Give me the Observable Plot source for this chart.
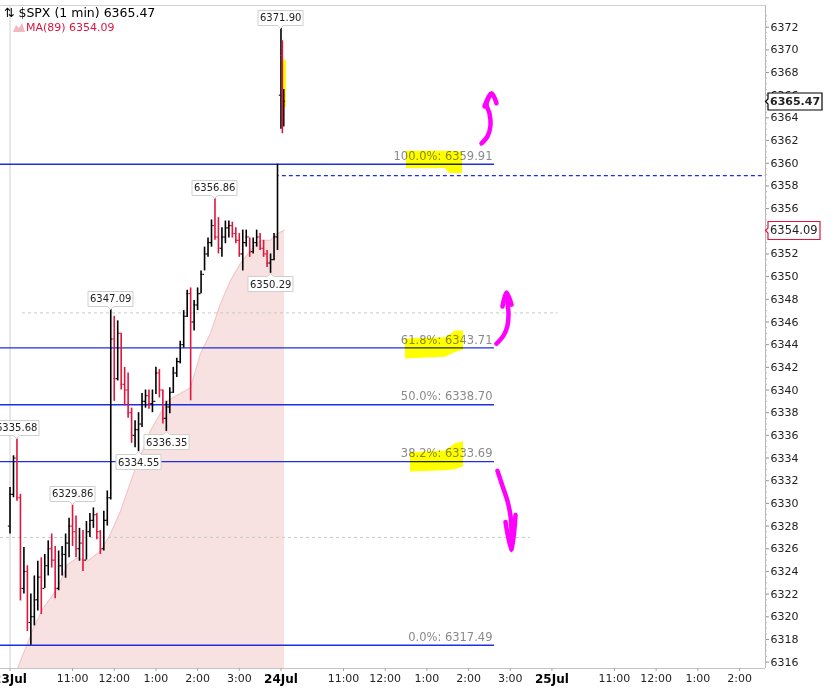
<!DOCTYPE html>
<html><head><meta charset="utf-8">
<script src="https://cdn.jsdelivr.net/npm/d3@7"></script>
<script src="https://cdn.jsdelivr.net/npm/@observablehq/plot@0.6"></script>
<style>
body{margin:0;background:#fff;}
#wrap{position:relative;width:839px;height:688px;overflow:hidden;}
#legend{position:absolute;left:0;top:0;font-family:"DejaVu Sans",sans-serif;pointer-events:none;}
#legend .l1{position:absolute;left:4px;top:5px;font-size:12.5px;color:#000;white-space:nowrap;}
#legend .l2{position:absolute;left:13px;top:21px;font-size:11px;color:#dc1440;white-space:nowrap;}
</style></head><body>
<div id="wrap"><div id="chart"></div>
<div id="legend">
 <div class="l1">⇅ $SPX (1 min) 6365.47</div>
 <div class="l2"><svg width="12" height="10" style="vertical-align:-1px;margin-right:1px"><polygon points="0,10 3,3 6,6 9,1 12,10" fill="#f2b8c0"/></svg>MA(89) 6354.09</div>
</div></div>
<script>
// ---- time axis: trading minutes since 23 Jul 9:30 (sessions 9:30-16:00 concatenated)
const sessionMinutes = 390;
const dayLabels = ["23Jul", "24Jul", "25Jul"];
const hourLabels = ["11:00", "12:00", "1:00", "2:00", "3:00"];
const hourOffsets = [90, 150, 210, 270, 330];

// ---- 23 Jul, 5-minute bars (high / low / close), open = previous close
const firstOpen23 = 6328.0;
const barHigh23 = [6331.4,6334.2,6335.68,6330.8,6326.1,6324.5,6322.0,6323.6,6324.9,6325.2,
 6325.5,6326.7,6327.3,6326.2,6325.8,6326.2,6327.3,6328.7,6329.86,6328.9,
 6327.8,6327.6,6328.4,6329.1,6329.6,6329.1,6327.6,6329.3,6331.1,6347.09,
 6346.5,6346.1,6345.0,6342.0,6341.5,6338.4,6337.3,6338.0,6339.7,6340.0,
 6340.0,6340.0,6342.0,6341.8,6340.0,6339.0,6340.2,6342.0,6342.8,6344.3,
 6347.0,6348.8,6349.0,6347.9,6349.0,6350.5,6352.6,6353.4,6355.0,6356.86,
 6355.2,6354.3,6354.9,6354.9,6354.8,6354.3,6353.8,6354.1,6354.1,6353.4,
 6353.4,6354.1,6353.8,6353.2,6352.3,6352.0,6353.8,6359.91];
const barLow23 = [6327.3,6330.5,6330.2,6321.4,6322.0,6318.7,6317.49,6319.2,6320.5,6320.2,
 6322.5,6323.6,6324.3,6321.6,6322.3,6323.6,6323.4,6325.2,6326.2,6325.2,
 6324.9,6324.0,6325.0,6327.0,6327.8,6326.8,6325.5,6325.8,6328.0,6330.3,
 6339.0,6340.8,6340.0,6338.6,6337.5,6335.3,6334.9,6334.55,6336.7,6338.4,
 6338.3,6338.0,6339.6,6339.3,6337.0,6336.35,6337.9,6339.7,6341.1,6342.3,
 6343.7,6346.4,6339.05,6345.2,6347.0,6348.5,6350.5,6351.7,6352.6,6353.2,
 6352.0,6351.7,6352.9,6353.4,6353.4,6352.9,6351.7,6350.5,6352.6,6351.7,
 6352.0,6352.6,6352.3,6351.7,6350.8,6350.29,6351.4,6352.3];
const barClose23 = [6330.8,6334.0,6330.5,6322.5,6324.0,6319.5,6320.0,6321.5,6323.5,6322.5,
 6324.5,6326.0,6325.0,6322.5,6324.5,6325.5,6326.5,6328.0,6327.5,6326.0,
 6326.5,6325.0,6327.5,6328.5,6329.0,6327.5,6326.0,6328.5,6330.5,6344.5,
 6341.0,6345.0,6340.5,6340.0,6338.0,6336.0,6336.5,6337.0,6339.0,6339.5,
 6338.8,6339.0,6341.5,6340.0,6337.5,6338.5,6339.8,6341.5,6342.5,6344.0,
 6346.5,6348.5,6346.0,6347.5,6348.5,6350.2,6352.0,6353.0,6354.5,6353.5,
 6352.5,6353.5,6354.3,6354.5,6353.8,6353.2,6352.0,6353.0,6353.5,6352.2,
 6353.0,6353.5,6352.5,6352.0,6351.2,6351.5,6353.5,6358.9];

// ---- 24 Jul, first 1-minute bars
const barTime24 = [390, 392, 394];
const barOpen24 = [6366.0, 6369.5, 6364.0];
const barHigh24 = [6371.90, 6370.8, 6366.5];
const barLow24 = [6363.0, 6362.6, 6363.2];
const barClose24 = [6369.5, 6364.0, 6365.47];

// ---- MA(89)
const maTime = [0,10.8,15.1,22.3,33.8,48.2,68.4,82.8,97.2,111.5,130.3,144.6,159.0,177.7,202.2,220.9,226.7,245.4,259.8,274.2,288.6,303.0,317.4,331.8,346.1,360.5,374.9,385,395];
const maValue = [6313.8,6315.4,6316.1,6317.2,6319.0,6320.8,6322.5,6324.6,6325.2,6324.9,6325.8,6327.3,6329.3,6332.6,6336.4,6338.4,6339.05,6339.7,6340.2,6343.2,6345.0,6347.6,6349.65,6351.15,6352.3,6353.2,6353.2,6353.8,6354.09];

// ---- Fibonacci retracement
const fibPct = ["0.0%", "38.2%", "50.0%", "61.8%", "100.0%"];
const fibValue = [6317.49, 6333.69, 6338.70, 6343.71, 6359.91];
const fibEnd = 697.3;
const prevClose = 6358.9, prevCloseStart = 392;
const lastPrice = 6365.47, maLast = 6354.09;

// ---- gray dotted levels
const dotValue = [6346.8, 6327.0];
const dotStart = [18, -13.7];
const dotEnd = [789, 749];

// ---- price labels
const highLabelTime = [10, 90, 145, 295, 390];
const highLabelPrice = [6335.68, 6329.86, 6347.09, 6356.86, 6371.90];
const lowLabelTime = [185, 225, 375];
const lowLabelPrice = [6334.55, 6336.35, 6350.29];

// ---- hand-drawn highlights (yellow) and arrows (magenta), in time/price units
const hlId = [0,0,0,0, 1,1,1,1, 2,2,2,2];
const hlTime = [570.7,626.8,632.6,651.3, 569.2,626.8,641.2,652.7, 576.4,626.8,641.2,652.7];
const hlLow = [6359.54,6359.54,6359.10,6359.10, 6342.74,6342.9,6343.3,6343.5, 6332.78,6332.87,6332.96,6333.22];
const hlHigh = [6361.05,6361.05,6361.05,6360.96, 6344.50,6344.6,6345.2,6345.2, 6334.46,6334.63,6335.25,6335.43];
const candleHlTime = [393, 398], candleHlLow = 6364.9, candleHlHigh = 6369.1;

const arrowId = ["a","a","a","a","a","a","ah","ah","ah", "b","b","b","b","b","b","bh","bh","bh", "c","c","c","c","c","c","ch","ch","ch"];
const arrowTime = [678.6,687.2,691.6,690.1,685.8,691.6, 682.9,693.0,700.2,
 700.2,710.3,716.0,717.5,716.0,714.6, 708.8,714.6,721.8,
 701.6,708.8,716.0,720.4,721.8,721.8, 713.2,721.8,727.6];
const arrowPrice = [6361.75,6362.37,6363.34,6364.40,6365.20,6366.08, 6365.02,6366.17,6365.29,
 6344.08,6344.79,6345.67,6346.74,6347.71,6348.50, 6347.36,6348.59,6347.53,
 6332.87,6331.54,6330.21,6328.89,6327.56,6325.98, 6328.36,6325.89,6328.98];

// ---- build tables
const bars = [
 ...barHigh23.map((h, i) => ({t: i * 5, o: i ? barClose23[i - 1] : firstOpen23, h, l: barLow23[i], c: barClose23[i]})),
 ...barTime24.map((t, i) => ({t, o: barOpen24[i], h: barHigh24[i], l: barLow24[i], c: barClose24[i]}))
];
const up = bars.filter(d => d.c >= d.o), down = bars.filter(d => d.c < d.o);
const ma = maTime.map((t, i) => ({t, v: maValue[i]}));
const fib = fibValue.map((v, i) => ({v, label: `${fibPct[i]}: ${v.toFixed(2)}`}));
const dots = dotValue.map((v, i) => ({v, t1: dotStart[i], t2: dotEnd[i]}));
const highs = highLabelTime.map((t, i) => ({t, p: highLabelPrice[i]}));
const lows = lowLabelTime.map((t, i) => ({t, p: lowLabelPrice[i]}));
const hl = hlTime.map((t, i) => ({id: hlId[i], t, lo: hlLow[i], hi: hlHigh[i]}));
const arrows = arrowTime.map((t, i) => ({id: arrowId[i], t, p: arrowPrice[i]}));

const xDomain = [-13.7, 1087.4], yDomain = [6315.44, 6373.91];
const dayTicks = dayLabels.map((_, i) => i * sessionMinutes);
const hourTicks = [], hourMap = new Map();
dayLabels.forEach((_, i) => hourOffsets.forEach((o, j) => {
  const t = i * sessionMinutes + o;
  if (t <= xDomain[1]) { hourTicks.push(t); hourMap.set(t, hourLabels[j]); }
}));
const dayMap = new Map(dayTicks.map((t, i) => [t, dayLabels[i]]));
const minorTicks = d3.range(6316, 6373.5, 0.5);

const red = "#e0163e", blue = "#1f2fe0";
const tw = 2.4;
const candle = (data, color) => [
  Plot.ruleX(data, {x: "t", y1: "l", y2: "h", stroke: color, strokeWidth: 1.6}),
  Plot.ruleY(data, {y: "o", x1: d => d.t - tw, x2: "t", stroke: color, strokeWidth: 1.1}),
  Plot.ruleY(data, {y: "c", x1: "t", x2: d => d.t + tw, stroke: color, strokeWidth: 1.1})
];
const tipStyle = {fill: "white", stroke: "#cfcfcf", pathFilter: "none", textPadding: 2, pointerSize: 6, fontSize: 10, fontFamily: "DejaVu Sans", lineHeight: 1.1};

const chart = Plot.plot({
  width: 839, height: 688,
  marginLeft: 0, marginRight: 74, marginTop: 5, marginBottom: 20,
  x: {domain: xDomain, axis: null},
  y: {domain: yDomain, axis: null},
  style: {fontFamily: "DejaVu Sans", background: "#fff", color: "#222"},
  marks: [
    Plot.areaY(ma, {x: "t", y1: yDomain[0] - 5, y2: "v", fill: "#f8e1e1", clip: true}),
    Plot.lineY(ma, {x: "t", y: "v", stroke: "#f3c3c8", strokeWidth: 1, clip: true}),
    Plot.ruleX([0], {stroke: "#cfcfcf"}),
    Plot.ruleY([yDomain[1]], {stroke: "#d4d4d4"}),
    Plot.ruleY([yDomain[0]], {stroke: "#c4c4c4"}),
    Plot.ruleX([xDomain[1]], {stroke: "#b8b8b8"}),
    Plot.ruleY(dots, {y: "v", x1: "t1", x2: "t2", stroke: "#c8c8c8", strokeDasharray: "3,3"}),
    Plot.ruleY(fib, {y: "v", x1: xDomain[0], x2: fibEnd, stroke: blue, strokeWidth: 1.3}),
    Plot.ruleY([prevClose], {x1: prevCloseStart, x2: xDomain[1], stroke: blue, strokeWidth: 1.2, strokeDasharray: "4,3"}),
    Plot.text(fib, {x: fibEnd, y: "v", text: "label", textAnchor: "end", dx: -2, dy: -8, fill: "#8a8a8a", fontSize: 11.5}),
    Plot.rect([0], {x1: candleHlTime[0], x2: candleHlTime[1], y1: candleHlLow, y2: candleHlHigh, fill: "#ffff00"}),
    ...candle(up, "#000"),
    ...candle(down, red),
    Plot.areaY(hl, {x: "t", y1: "lo", y2: "hi", z: "id", fill: "#ffff00", mixBlendMode: "multiply"}),
    Plot.line(arrows, {x: "t", y: "p", z: "id", stroke: "#ff00ff", strokeWidth: 4.5, strokeLinecap: "round", strokeLinejoin: "round", curve: "catmull-rom"}),
    Plot.tip(highs, {x: "t", y: "p", title: d => d.p.toFixed(2), anchor: "bottom", ...tipStyle}),
    Plot.tip(lows, {x: "t", y: "p", title: d => d.p.toFixed(2), anchor: "top", ...tipStyle}),
    Plot.ruleY(minorTicks, {x1: xDomain[1], x2: xDomain[1] + 2.9, stroke: "#bbb"}),
    Plot.axisY(d3.range(6316, 6373, 2), {anchor: "right", tickSize: 3, tickPadding: 2, tickFormat: d3.format("d"), fontSize: 11, stroke: "#999", fill: "#222"}),
    Plot.axisX(hourTicks, {anchor: "bottom", tickSize: 3, tickPadding: 3, tickFormat: d => hourMap.get(d), fontSize: 11, stroke: "#aaa", fill: "#222"}),
    Plot.axisX(dayTicks, {anchor: "bottom", tickSize: 3, tickPadding: 3, tickFormat: d => dayMap.get(d), fontSize: 12, fontWeight: "bold", stroke: "#aaa", fill: "#000"}),
    Plot.tip([lastPrice], {x: () => xDomain[1], y: d => d, title: d => d.toFixed(2), anchor: "left", fill: "white", stroke: "#000", strokeWidth: 1.2, pathFilter: "none", textPadding: 2, pointerSize: 5, fontSize: 11, fontWeight: "bold", lineHeight: 1.1}),
    Plot.tip([maLast], {x: () => xDomain[1], y: d => d, title: d => d.toFixed(2), anchor: "left", fill: "white", stroke: red, strokeWidth: 1.2, pathFilter: "none", textPadding: 2, pointerSize: 5, fontSize: 11.5, lineHeight: 1.1})
  ]
});
document.getElementById("chart").appendChild(chart);
</script>
</body></html>
